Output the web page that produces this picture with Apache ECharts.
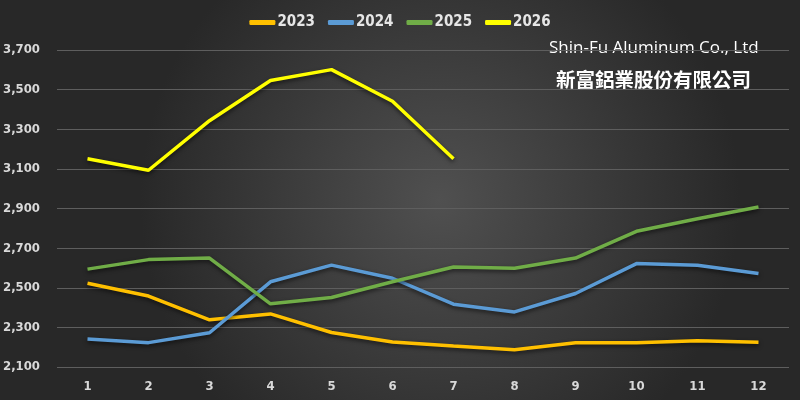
<!DOCTYPE html>
<html>
<head>
<meta charset="utf-8">
<script src="https://cdn.jsdelivr.net/npm/echarts@6/dist/echarts.min.js"></script>
<style>
  html, body { margin: 0; padding: 0; }
  #chart { width: 800px; height: 400px; }
</style>
</head>
<body>
<div id="chart"></div>
<script>
// months on the x axis
const months = ['1', '2', '3', '4', '5', '6', '7', '8', '9', '10', '11', '12'];

// price per year
const y2023 = [2523, 2458, 2338, 2368, 2274, 2226, 2206, 2187, 2222, 2222, 2232, 2225];
const y2024 = [2241, 2223, 2273, 2530, 2614, 2548, 2417, 2378, 2471, 2622, 2614, 2572];
const y2025 = [2594, 2642, 2650, 2419, 2451, 2530, 2605, 2598, 2650, 2785, 2848, 2908];
const y2026 = [3151, 3093, 3343, 3546, 3601, 3441, 3151];

const yearNames = ['2023', '2024', '2025', '2026'];
const yearColors = ['#FFC000', '#5B9BD5', '#70AD47', '#FFFF00'];

const titleEn = 'Shin-Fu Aluminum Co., Ltd';
const titleZh = '新富鋁業股份有限公司';

const labelFont = '"Liberation Sans Narrow", "DejaVu Sans Condensed", sans-serif';

const makeLine = (name, data, color) => {
  return {
    name: name,
    type: 'line',
    data: data,
    symbol: 'none',
    smooth: false,
    lineStyle: {
      width: 3.5,
      color: color,
      shadowColor: 'rgba(0,0,0,0.6)',
      shadowBlur: 4,
      shadowOffsetY: 2,
    },
    itemStyle: { color: color },
  };
};

const chart = echarts.init(document.getElementById('chart'));

const option = {
  backgroundColor: {
    type: 'radial',
    x: 0.55,
    y: 0.5,
    r: 0.75,
    colorStops: [
      { offset: 0, color: '#505050' },
      { offset: 1, color: '#282828' },
    ],
  },
  animation: false,
  legend: {
    top: 10,
    left: 'center',
    itemWidth: 26,
    itemHeight: 5,
    itemGap: 13,
    icon: 'roundRect',
    textStyle: {
      color: '#e6e6e6',
      fontSize: 15,
      fontWeight: 'bold',
      fontFamily: labelFont,
      padding: [0, 0, 0, -3],
    },
    data: yearNames,
  },
  grid: {
    left: 57,
    right: 11,
    top: 50,
    bottom: 33,
  },
  xAxis: {
    type: 'category',
    data: months,
    boundaryGap: true,
    axisLine: { show: false },
    axisTick: { show: false },
    axisLabel: {
      color: '#d9d9d9',
      fontSize: 13,
      fontWeight: 'bold',
      fontFamily: labelFont,
      margin: 13,
    },
  },
  yAxis: {
    type: 'value',
    min: 2100,
    max: 3700,
    interval: 200,
    axisLine: { show: false },
    axisTick: { show: false },
    splitLine: { lineStyle: { color: '#5e5e5e', width: 1 } },
    axisLabel: {
      color: '#d9d9d9',
      fontSize: 13,
      fontWeight: 'bold',
      fontFamily: labelFont,
      margin: 17,
      formatter: v => v.toLocaleString('en-US'),
    },
  },
  graphic: [
    {
      type: 'text',
      left: 549,
      top: 40,
      style: {
        text: titleEn,
        fill: '#ffffff',
        font: '17px "Open Sans", "Noto Sans", sans-serif',
        shadowColor: 'rgba(0,0,0,0.6)',
        shadowBlur: 4,
        shadowOffsetY: 2,
      },
    },
    {
      type: 'text',
      left: 556,
      top: 70,
      style: {
        text: titleZh,
        fill: '#ffffff',
        font: 'bold 19.5px "Noto Sans CJK TC", sans-serif',
        shadowColor: 'rgba(0,0,0,0.7)',
        shadowBlur: 5,
        shadowOffsetY: 3,
      },
    },
  ],
  series: [
    makeLine(yearNames[0], y2023, yearColors[0]),
    makeLine(yearNames[1], y2024, yearColors[1]),
    makeLine(yearNames[2], y2025, yearColors[2]),
    makeLine(yearNames[3], y2026, yearColors[3]),
  ],
};

chart.setOption(option);
</script>
</body>
</html>
